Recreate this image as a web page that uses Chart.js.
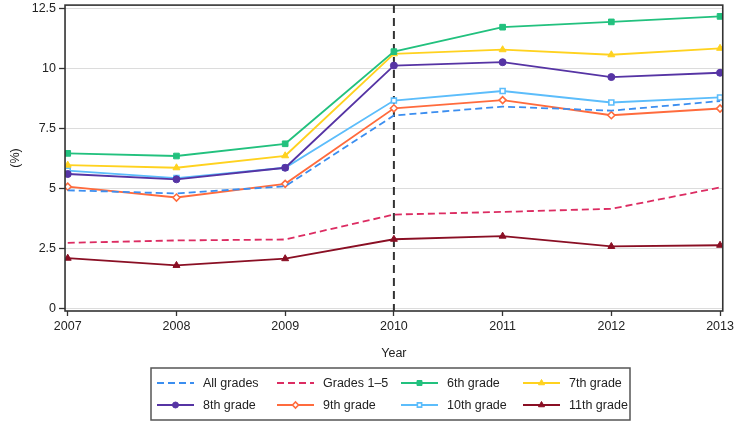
<!DOCTYPE html>
<html>
<head>
<meta charset="utf-8">
<script src="https://cdn.jsdelivr.net/npm/chart.js@4"></script>
<style>
  html, body { margin: 0; padding: 0; background: #fff; }
  #wrap { width: 737px; height: 422px; position: relative; }
</style>
</head>
<body>
<div id="wrap"><canvas id="myChartLine"></canvas></div>
<script>
const years = [2007, 2008, 2009, 2010, 2011, 2012, 2013];
const yTicks = [0, 2.5, 5, 7.5, 10, 12.5];
const cutYear = 2010;

const allGrades = [4.93, 4.80, 5.10, 8.05, 8.42, 8.25, 8.65];
const grades1to5 = [2.74, 2.84, 2.88, 3.92, 4.03, 4.16, 5.05];
const grade6 = [6.47, 6.36, 6.87, 10.71, 11.73, 11.95, 12.18];
const grade7 = [5.98, 5.87, 6.37, 10.62, 10.79, 10.58, 10.85];
const grade8 = [5.61, 5.39, 5.87, 10.13, 10.27, 9.65, 9.83];
const grade9 = [5.08, 4.63, 5.20, 8.35, 8.69, 8.06, 8.34];
const grade10 = [5.75, 5.44, 5.87, 8.67, 9.07, 8.59, 8.80];
const grade11 = [2.10, 1.80, 2.08, 2.89, 3.02, 2.59, 2.64];

const font = { family: "'Liberation Sans', Arial, sans-serif", size: 12.5 };

function series(label, values, color, style, open, size) {
  return {
    label: label,
    data: values.map((v, i) => ({ x: years[i], y: v })),
    borderColor: color,
    backgroundColor: color,
    borderWidth: 1.8,
    borderDash: style ? [] : [7, 4],
    pointStyle: style || 'circle',
    pointRadius: style ? (size || 3.5) : 0,
    pointHoverRadius: style ? (size || 3.5) : 0,
    pointBackgroundColor: open ? '#fff' : color,
    pointBorderColor: color,
    pointBorderWidth: open ? 1.6 : 1,
    tension: 0
  };
}

// dashed vertical marker at 2010 + frame round the plot
const cutLine = {
  id: 'cutLine',
  beforeDatasetsDraw(chart) {
    const c = chart.ctx, a = chart.chartArea;
    const x = chart.scales.x.getPixelForValue(cutYear);
    c.save();
    c.strokeStyle = '#333';
    c.lineWidth = 2;
    c.setLineDash([8, 5]);
    c.beginPath();
    c.moveTo(x, a.top);
    c.lineTo(x, a.bottom);
    c.stroke();
    c.restore();
  },
  afterDraw(chart) {
    const c = chart.ctx, a = chart.chartArea;
    c.save();
    c.strokeStyle = '#333';
    c.lineWidth = 1.6;
    c.strokeRect(a.left, a.top, a.right - a.left, a.bottom - a.top);
    c.restore();
  }
};

// boxed 4-column legend under the axis
const legendBox = {
  id: 'legendBox',
  afterDraw(chart) {
    const c = chart.ctx;
    const cols = [157, 277, 401, 523];
    const rows = [383, 405];
    c.save();
    c.strokeStyle = '#555';
    c.lineWidth = 1.5;
    c.strokeRect(151, 368, 479, 52);
    chart.data.datasets.forEach((ds, i) => {
      const x = cols[i % 4], y = rows[Math.floor(i / 4)];
      c.strokeStyle = ds.borderColor;
      c.lineWidth = ds.borderWidth;
      c.setLineDash(ds.borderDash);
      c.beginPath();
      c.moveTo(x, y);
      c.lineTo(x + 37, y);
      c.stroke();
      c.setLineDash([]);
      if (ds.pointRadius > 0) {
        c.fillStyle = ds.pointBackgroundColor;
        c.strokeStyle = ds.pointBorderColor;
        c.lineWidth = ds.pointBorderWidth;
        Chart.helpers.drawPoint(c, { pointStyle: ds.pointStyle, radius: ds.pointRadius - 0.5, borderWidth: ds.pointBorderWidth, rotation: 0 }, x + 18.5, y);
      }
      c.fillStyle = '#222';
      c.font = font.size + 'px ' + font.family;
      c.textBaseline = 'middle';
      c.fillText(ds.label, x + 46, y + 1);
    });
    c.restore();
  }
};

const ctx = document.getElementById('myChartLine');
new Chart(ctx, {
  type: 'line',
  data: {
    datasets: [
      series('All grades', allGrades, '#3b8ef0'),
      series('Grades 1\u20135', grades1to5, '#dc2c62'),
      series('6th grade', grade6, '#22c17e', 'rect', false, 4),
      series('7th grade', grade7, '#ffd21f', 'triangle', false, 4),
      series('8th grade', grade8, '#5634a4', 'circle'),
      series('9th grade', grade9, '#ff6b3d', 'rectRot', true),
      series('10th grade', grade10, '#5cbdfb', 'rect', true),
      series('11th grade', grade11, '#8a0f24', 'triangle', false, 4)
    ]
  },
  options: {
    responsive: true,
    maintainAspectRatio: false,
    animation: false,
    layout: { padding: { top: 4, right: 12, bottom: 57, left: 8 } },
    plugins: { legend: { display: false }, tooltip: { enabled: false } },
    scales: {
      x: {
        type: 'linear',
        min: 2006.975,
        max: 2013.025,
        afterBuildTicks: s => { s.ticks = years.map(v => ({ value: v })); },
        border: { display: false },
        grid: { drawOnChartArea: false, drawTicks: true, tickLength: 5, tickColor: '#333', tickWidth: 1.3 },
        ticks: { color: '#222', font: font, padding: 3, autoSkip: false, maxRotation: 0, callback: v => String(v) },
        title: { display: true, text: 'Year', color: '#222', font: font, padding: { top: 9, bottom: 4 } }
      },
      y: {
        min: -0.1,
        max: 12.65,
        afterBuildTicks: s => { s.ticks = yTicks.map(v => ({ value: v })); },
        border: { display: false },
        grid: { color: '#dcdcdc', lineWidth: 1, drawTicks: true, tickLength: 6, tickColor: '#333', tickWidth: 1.3 },
        ticks: { color: '#222', font: Object.assign({}, font, { lineHeight: 0.2 }), padding: 3, callback: v => String(v) },
        title: { display: true, text: '(%)', color: '#222', font: font, padding: { top: 0, bottom: 5.7 } }
      }
    }
  },
  plugins: [cutLine, legendBox]
});
</script>
</body>
</html>
